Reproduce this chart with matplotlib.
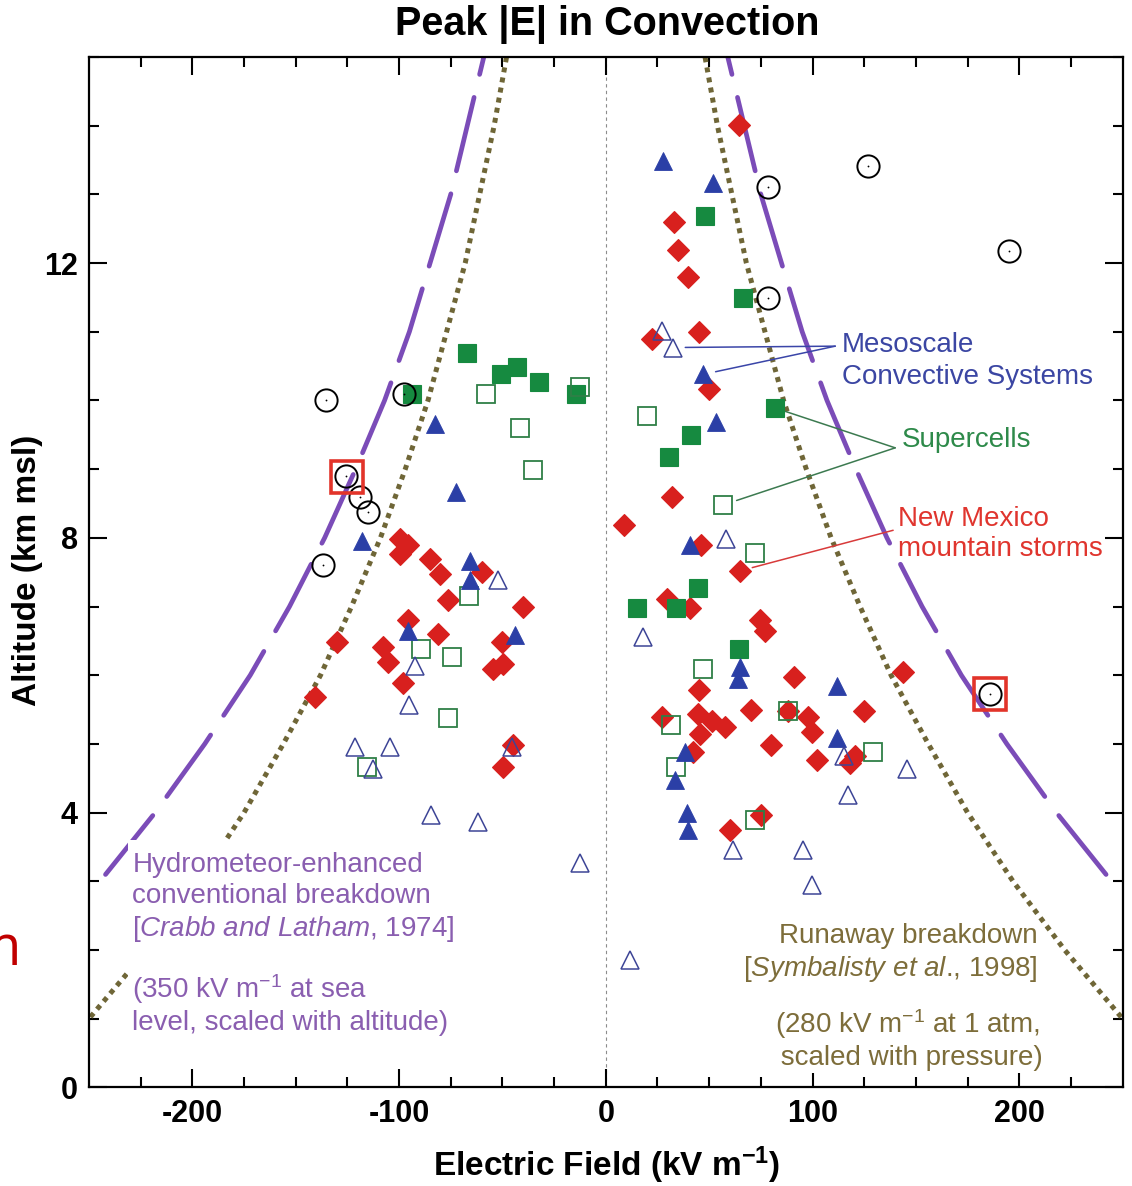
import matplotlib
matplotlib.use("Agg")
import matplotlib.pyplot as plt
from matplotlib.patches import Rectangle
import numpy as np

plt.rcParams["font.family"] = ["Liberation Sans", "DejaVu Sans"]
plt.rcParams["mathtext.fontset"] = "custom"
plt.rcParams["mathtext.rm"] = "Liberation Sans"
plt.rcParams["mathtext.it"] = "Liberation Sans:italic"
plt.rcParams["mathtext.bf"] = "Liberation Sans:bold"
plt.rcParams["mathtext.default"] = "rm"
plt.rcParams["axes.unicode_minus"] = False

# Breakdown thresholds (magnitude, kV/m) vs altitude (km)
conv_alt = [3.1, 4, 5, 6, 7, 8, 9, 10, 11, 12, 13, 14, 15]
conv_field = [242, 218, 194, 172, 153, 136, 121, 107, 95, 85, 75, 67, 59]
rwb_alt = [0.9, 1, 2, 3, 4, 5, 6, 7, 8, 9, 10, 11, 12, 13, 14, 15]
rwb_field = [252, 250, 222, 197, 175, 156, 138, 123, 109, 97, 86, 77, 68, 61, 54, 48]

# New Mexico mountain storms
nm_x = [-99.5, -95.5, -99.5, -85, -80.2, -60, -76.1, -40.2, -95.5, -81, -129.8,
        -107.6, -50.3, -105.2, -49.5, -54.4, -97.9, -140.6, -44.7, -49.8,
        64.6, 33, 34.7, 40, 45.3, 22.3, 50.1, 31.9, 8.9, 46, 65, 29.5, 40.5,
        74.6, 77.1, 144, 91.1, 45.3, 27.1, 44.7, 51.4, 57.7, 45.6, 70.3, 87.9,
        98, 99.7, 125.1, 80, 42.1, 102.1, 117.9, 120.5, 75, 60]
nm_alt = [7.98, 7.89, 7.76, 7.69, 7.47, 7.5, 7.1, 6.99, 6.81, 6.6, 6.48,
          6.41, 6.48, 6.19, 6.17, 6.09, 5.88, 5.68, 4.98, 4.67,
          14.01, 12.6, 12.19, 11.8, 11.0, 10.89, 10.16, 8.6, 8.19, 7.9, 7.52, 7.11, 6.98,
          6.8, 6.65, 6.04, 5.98, 5.78, 5.39, 5.44, 5.34, 5.24, 5.14, 5.49, 5.48,
          5.39, 5.17, 5.48, 4.98, 4.88, 4.77, 4.72, 4.82, 3.97, 3.75]

# Supercells (filled / open)
sc_x = [-67.2, -50.7, -42.8, -32.1, -14.4, -93.9,
        48.2, 66.6, 81.9, 41.1, 30.8, 44.5, 15, 34, 64.6]
sc_alt = [10.69, 10.39, 10.49, 10.27, 10.1, 10.1,
          12.69, 11.49, 9.89, 9.49, 9.18, 7.27, 6.98, 6.98, 6.38]
sc_open_x = [-12.4, -57.9, -41.5, -35.3, -66.1, -89.5, -74.5, -76.1, -115.6,
             20.1, 56.9, 72.4, 46.9, 31.4, 87.9, 129.5, 34, 72]
sc_open_alt = [10.19, 10.1, 9.6, 8.99, 7.16, 6.38, 6.27, 5.38, 4.67,
               9.77, 8.48, 7.78, 6.09, 5.27, 5.48, 4.88, 4.67, 3.9]

# Mesoscale convective systems (filled / open)
mcs_x = [-82.6, -72.4, -118, -65.7, -65.7, -95.5, -43.9,
         27.9, 52.1, 47.2, 53.4, 40.5, 65, 63.9, 111.8, 38.4, 33.5, 112, 39.5, 40]
mcs_alt = [9.65, 8.66, 7.96, 7.67, 7.38, 6.65, 6.58,
           13.48, 13.17, 10.38, 9.68, 7.9, 6.12, 5.95, 5.85, 4.88, 4.47, 5.08, 3.99, 3.75]
mcs_open_x = [-52, -92.3, -95, -121.3, -104.4, -112.7, -45.5, -84.5, -61.9, -12.4,
              27.1, 32.4, 58.2, 18.2, 115, 117.4, 145.7, 61.5, 95.3, 99.8, 11.8]
mcs_open_alt = [7.38, 6.14, 5.57, 4.95, 4.95, 4.64, 4.95, 3.96, 3.86, 3.26,
                11.01, 10.77, 7.98, 6.56, 4.82, 4.25, 4.63, 3.45, 3.45, 2.95, 1.85]

# Balloon soundings (circles) and the two highlighted cases
snd_x = [-135.5, -97.6, -125.6, -118.9, -115.2, -136.6, 78.7, 127, 195, 78.4, 185.8]
snd_alt = [10.0, 10.1, 8.9, 8.6, 8.38, 7.6, 13.11, 13.41, 12.17, 11.49, 5.72]
hl_x = [-125.3, 185.8]
hl_alt = [8.88, 5.72]

PURPLE = "#7b4cb8"
OLIVE = "#6f6637"
RED = "#d8201e"
GREEN = "#168a40"
BLUE = "#2b3fa6"

fig = plt.figure(figsize=(11.32, 11.86), dpi=100)
ax = fig.add_axes([0.0786, 0.0831, 0.9131, 0.8689])

ax.axvline(0, color="#8c8c8c", lw=0.8, dashes=(3, 3), zorder=1)

field = np.array(conv_field)
for sign in (-1, 1):
    ax.plot(sign * field, conv_alt, color=PURPLE, lw=3.4, dashes=(16, 5),
            solid_capstyle="round", dash_capstyle="round", zorder=2)
field = np.array(rwb_field)
for sign in (-1, 1):
    ax.plot(sign * field, rwb_alt, color=OLIVE, lw=3.6, dashes=(1.0, 1.05),
            dash_capstyle="butt", zorder=2)

# white panel behind the left caption so the threshold curves stop there
ax.add_patch(Rectangle((-231, 0.75), 165, 2.85, facecolor="white",
                       edgecolor="none", zorder=2.5))

ax.plot(nm_x, nm_alt, "D", ms=11.5, mfc=RED, mec=RED, mew=0.8, ls="none", zorder=4)
ax.plot(sc_x, sc_alt, "s", ms=12.5, mfc=GREEN, mec=GREEN, mew=0.8, ls="none", zorder=5)
ax.plot(sc_open_x, sc_open_alt, "s", ms=12.5, mfc="none", mec="#2f7f47", mew=1.3,
        ls="none", zorder=5)
ax.plot(mcs_x, mcs_alt, "^", ms=13, mfc=BLUE, mec=BLUE, mew=0.6, ls="none", zorder=6)
ax.plot(mcs_open_x, mcs_open_alt, "^", ms=13, mfc="none", mec="#3d4596", mew=1.1,
        ls="none", zorder=6)
ax.plot(snd_x, snd_alt, "o", ms=16, mfc="none", mec="black", mew=1.4, ls="none", zorder=7)
ax.plot(snd_x, snd_alt, "o", ms=1.3, mfc="black", mec="black", mew=0, ls="none", zorder=7)
ax.plot(hl_x, hl_alt, "s", ms=23.5, mfc="none", mec="#e2342a", mew=2.6, ls="none", zorder=7)

# leader lines from the group labels to example points
leaders = [
    ((mcs_open_x[11], mcs_open_alt[11]), (111, 10.79), "#3a45a8", 9),
    ((mcs_x[9], mcs_alt[9]), (111, 10.79), "#3a45a8", 9),
    ((sc_x[8], sc_alt[8]), (140, 9.31), "#3c7a50", 8),
    ((sc_open_x[10], sc_open_alt[10]), (140, 9.31), "#3c7a50", 10),
    ((nm_x[30], nm_alt[30]), (139, 8.11), "#d83a3a", 9),
]
for xy, xytext, col, shrink in leaders:
    ax.annotate("", xy=xy, xytext=xytext,
                arrowprops=dict(arrowstyle="-", color=col, lw=1.1,
                                shrinkA=0, shrinkB=shrink), zorder=3)

ax.text(114.2, 10.57, "Mesoscale\nConvective Systems", color="#3b46a3",
        fontsize=20, ha="left", va="center", linespacing=1.3, zorder=8)
ax.text(143, 9.42, "Supercells", color="#2e8a4a", fontsize=20,
        ha="left", va="center", zorder=8)
ax.text(141.5, 8.05, "New Mexico\nmountain storms", color="#e0352e",
        fontsize=20, ha="left", va="center", linespacing=1.2, zorder=8)

txt_purple = "#8a5eb0"
txt_olive = "#7d6d3a"
box = dict(facecolor="white", edgecolor="none", pad=2)
ax.text(-229, 2.76,
        "Hydrometeor-enhanced\nconventional breakdown\n"
        r"[$\it{Crabb\ and\ Latham}$, 1974]",
        color=txt_purple, fontsize=20, ha="left", va="center",
        linespacing=1.25, zorder=8)
ax.text(-229, 1.22, "(350 kV m$^{-1}$ at sea\nlevel, scaled with altitude)",
        color=txt_purple, fontsize=20, ha="left", va="center",
        linespacing=1.2, zorder=8)
ax.text(208.7, 1.95,
        "Runaway breakdown\n" r"[$\it{Symbalisty\ et\ al}$., 1998]",
        color=txt_olive, fontsize=20, ha="right", va="center",
        multialignment="right", linespacing=1.2, bbox=box, zorder=8)
ax.text(146, 0.71, "(280 kV m$^{-1}$ at 1 atm,\n scaled with pressure)",
        color=txt_olive, fontsize=20, ha="center", va="center",
        multialignment="center", linespacing=1.2, bbox=box, zorder=8)

ax.set_xlim(-250, 250)
ax.set_ylim(0, 15)
ax.set_xticks([-200, -100, 0, 100, 200])
ax.set_xticks(np.arange(-225, 250, 25), minor=True)
ax.set_yticks([0, 4, 8, 12])
ax.set_yticks(np.arange(0, 16, 1), minor=True)
ax.tick_params(which="both", direction="in", top=True, right=True, width=1.5)
ax.tick_params(which="major", length=13, labelsize=22, pad=8)
ax.tick_params(which="minor", length=7)
for lbl in ax.get_xticklabels() + ax.get_yticklabels():
    lbl.set_fontweight("bold")
for sp in ax.spines.values():
    sp.set_linewidth(1.6)

fig.text(0.536, 1 - 24 / 1186, "Peak |E| in Convection", fontsize=28.5,
         fontweight="bold", ha="center", va="center")
fig.text(0.536, 1 - 1165 / 1186, r"Electric Field (kV m$^{\mathbf{-1}}$)",
         fontsize=24, fontweight="bold", ha="center", va="center")
fig.text(28 / 1132, 0.519, "Altitude (km msl)", fontsize=24, fontweight="bold",
         rotation=90, ha="center", va="center")
fig.text(21 / 1132, 1 - 965 / 1186, "m", fontsize=40, color="#c00000",
         family="Open Sans", ha="right", va="baseline")

fig.savefig("out.png", dpi=100)
